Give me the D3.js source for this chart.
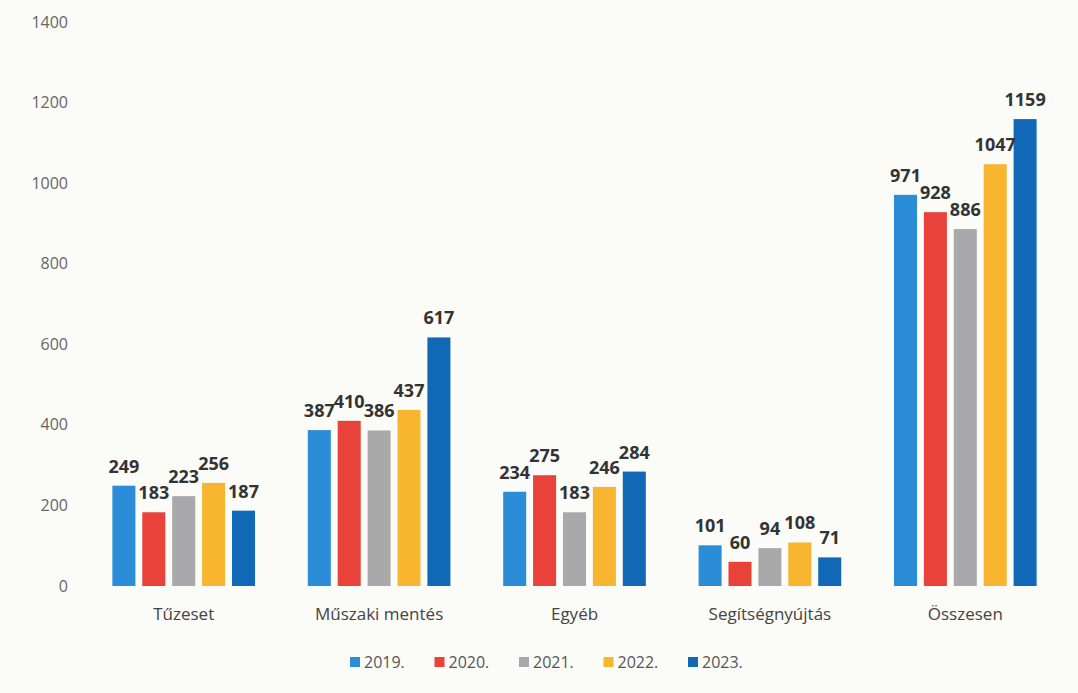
<!DOCTYPE html>
<html>
  <head>
    <meta charset="utf-8">
    <script src="https://d3js.org/d3.v7.min.js"></script>
    <style>
      body {
          margin: 0;
          background: #fbfbf7;
          font-family: "Open Sans", "Noto Sans", Arial, sans-serif;
      }
      svg text {
          font-family: "Open Sans", "Noto Sans", Arial, sans-serif;
      }
      .tick text {
          font-size: 16px;
          fill: #666;
      }
      .cat .tick text {
          font-size: 17px;
          fill: #444;
      }
      .value {
          font-size: 18px;
          font-weight: bold;
          fill: #333;
          text-anchor: middle;
      }
      .legend {
          font-size: 16px;
          fill: #555;
      }
    </style>
  </head>
  <body>
    <svg width="1078" height="693"></svg>
    <script>

    // data
    var categories = ["Tűzeset", "Műszaki mentés", "Egyéb", "Segítségnyújtás", "Összesen"];
    var years = ["2019.", "2020.", "2021.", "2022.", "2023."];
    var v2019 = [249, 387, 234, 101, 971];
    var v2020 = [183, 410, 275, 60, 928];
    var v2021 = [223, 386, 183, 94, 886];
    var v2022 = [256, 437, 246, 108, 1047];
    var v2023 = [187, 617, 284, 71, 1159];
    var yTicks = [0, 200, 400, 600, 800, 1000, 1200, 1400];
    var colors = ["#2b8cd8", "#e8423a", "#a9a9ab", "#f8b530", "#1068b6"];

    var series = [v2019, v2020, v2021, v2022, v2023];

    var svg = d3.select("svg"),
        margin = {top: 22, right: 15, bottom: 107, left: 86},
        width = +svg.attr("width") - margin.left - margin.right,
        height = +svg.attr("height") - margin.top - margin.bottom,
        g = svg.append("g").attr("transform", "translate(" + margin.left + "," + margin.top + ")");

    var x0 = d3.scaleBand().domain(categories).range([0, width]).paddingInner(0.27).paddingOuter(0.135);
    var x1 = d3.scaleBand().domain(years).range([0, x0.bandwidth()]).paddingInner(0.23);
    var y = d3.scaleLinear().domain([0, 1400]).range([height, 0]);

    // y axis, labels only
    var yAxis = g.append("g")
        .call(d3.axisLeft(y).tickValues(yTicks).tickFormat(d3.format("d")).tickSize(0).tickPadding(18));
    yAxis.select(".domain").remove();

    // x axis labels
    var xAxis = g.append("g")
        .attr("class", "cat")
        .attr("transform", "translate(0," + height + ")")
        .call(d3.axisBottom(x0).tickSize(0).tickPadding(22));
    xAxis.select(".domain").remove();

    var group = g.selectAll(".grp")
        .data(categories)
        .enter().append("g")
        .attr("class", "grp")
        .attr("transform", function(d) { return "translate(" + x0(d) + ",0)"; });

    function rows(d, i) {
      return years.map(function(yr, j) { return {year: yr, value: series[j][i], k: j}; });
    }

    group.selectAll("rect")
        .data(rows)
        .enter().append("rect")
        .attr("x", function(d) { return x1(d.year); })
        .attr("y", function(d) { return y(d.value); })
        .attr("width", x1.bandwidth())
        .attr("height", function(d) { return height - y(d.value); })
        .attr("fill", function(d) { return colors[d.k]; });

    group.selectAll(".value")
        .data(rows)
        .enter().append("text")
        .attr("class", "value")
        .attr("x", function(d) { return x1(d.year) + x1.bandwidth() / 2; })
        .attr("y", function(d) { return y(d.value) - 13; })
        .text(function(d) { return d.value; });

    // legend
    var legend = svg.append("g").attr("transform", "translate(350,657)");
    var item = legend.selectAll("g")
        .data(years)
        .enter().append("g")
        .attr("transform", function(d, i) { return "translate(" + (i * 84.5) + ",0)"; });
    item.append("rect")
        .attr("width", 10).attr("height", 10)
        .attr("fill", function(d, i) { return colors[i]; });
    item.append("text")
        .attr("class", "legend")
        .attr("x", 14).attr("y", 11)
        .text(function(d) { return d; });

    </script>
  </body>
</html>
